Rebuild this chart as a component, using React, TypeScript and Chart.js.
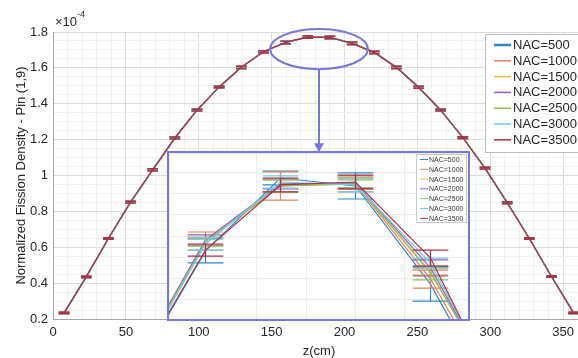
import React, { useEffect, useRef } from "react";
import { Chart, registerables } from "chart.js";

Chart.register(...registerables);

const FONT = "'Liberation Sans', Arial, Helvetica, sans-serif";
const TEXT = "#262626";
const ACCENT = "#7878dc";

const seriesLabels = ["NAC=500", "NAC=1000", "NAC=1500", "NAC=2000", "NAC=2500", "NAC=3000", "NAC=3500"];
const seriesColors = ["#2f86c8", "#e8835a", "#efbc45", "#9a5cb4", "#8cbf52", "#6fcbf0", "#a83248"];

// axial node centres (cm)
const zNodes = [7.6, 22.8, 38.0, 53.2, 68.4, 83.6, 98.8, 114.0, 129.2, 144.4, 159.6, 174.8,
  190.0, 205.2, 220.4, 235.6, 250.8, 266.0, 281.2, 296.4, 311.6, 326.8, 342.0, 357.2];
// normalized fission density (x1e-4), all NAC cases overlap at this scale
const mainProfile = [0.234, 0.435, 0.649, 0.851, 1.032, 1.209, 1.364, 1.494, 1.603, 1.690, 1.742, 1.772,
  1.770, 1.737, 1.686, 1.603, 1.492, 1.364, 1.211, 1.041, 0.849, 0.649, 0.437, 0.234];
const mainErrors = [0.004, 0.004, 0.004, 0.005, 0.005, 0.005, 0.005, 0.005, 0.006, 0.006, 0.007, 0.007,
  0.007, 0.007, 0.006, 0.006, 0.005, 0.005, 0.005, 0.005, 0.005, 0.004, 0.004, 0.004];

// zoomed inset (peak region)
const insetZ = [144.4, 159.6, 174.8, 190.0, 205.2, 220.4];
const insetNac500 = [1.6714, 1.7329, 1.7676, 1.7638, 1.7171, 1.6524];
const insetNac1000 = [1.6743, 1.7376, 1.7638, 1.7648, 1.7195, 1.6571];
const insetNac1500 = [1.6752, 1.7376, 1.7638, 1.7652, 1.7229, 1.6619];
const insetNac2000 = [1.6752, 1.7381, 1.7648, 1.7652, 1.7248, 1.6610];
const insetNac2500 = [1.6748, 1.7371, 1.7638, 1.7648, 1.7224, 1.6619];
const insetNac3000 = [1.6733, 1.7362, 1.7657, 1.7643, 1.7271, 1.6595];
const insetNac3500 = [1.6724, 1.7333, 1.7643, 1.7657, 1.7295, 1.6581];
const insetErr500 = [0.0024, 0.0057, 0.0033, 0.0062, 0.0081, 0.0024];
const insetErr1000 = [0.0024, 0.0043, 0.0067, 0.0038, 0.0043, 0.0024];
const insetErr1500 = [0.0024, 0.0019, 0.0029, 0.0029, 0.0014, 0.0024];
const insetErr2000 = [0.0024, 0.0024, 0.0024, 0.0024, 0.0038, 0.0024];
const insetErr2500 = [0.0024, 0.0019, 0.0029, 0.0019, 0.0033, 0.0024];
const insetErr3000 = [0.0024, 0.0029, 0.0029, 0.0033, 0.0024, 0.0024];
const insetErr3500 = [0.0024, 0.0029, 0.0033, 0.0033, 0.0038, 0.0024];
const insetValues = [insetNac500, insetNac1000, insetNac1500, insetNac2000, insetNac2500, insetNac3000, insetNac3500];
const insetErrors = [insetErr500, insetErr1000, insetErr1500, insetErr2000, insetErr2500, insetErr3000, insetErr3500];

const CAP_HALF = 3.6; // cm
const zoomEllipse = { z: 182.5, v: 1.705, rz: 33.5, rv: 0.112 };
const arrowEndV = 1.13;

const errorBarPlugin = {
  id: "errorBars",
  afterDatasetDraw(chart: any, args: any) {
    const ds: any = chart.data.datasets[args.index];
    if (!ds.errors) return;
    const { ctx } = chart;
    const x = chart.scales.x;
    const y = chart.scales.y;
    ctx.save();
    ctx.strokeStyle = ds.borderColor;
    ctx.lineWidth = ds.errWidth || 1.2;
    ds.data.forEach((p: any, k: number) => {
      const e = ds.errors[k];
      const px = x.getPixelForValue(p.x);
      const x0 = x.getPixelForValue(p.x - CAP_HALF);
      const x1 = x.getPixelForValue(p.x + CAP_HALF);
      const yt = y.getPixelForValue(p.y + e);
      const yb = y.getPixelForValue(p.y - e);
      ctx.beginPath();
      ctx.moveTo(px, yt);
      ctx.lineTo(px, yb);
      ctx.moveTo(x0, yt);
      ctx.lineTo(x1, yt);
      ctx.moveTo(x0, yb);
      ctx.lineTo(x1, yb);
      ctx.stroke();
    });
    ctx.restore();
  },
};

const mainDecorPlugin = {
  id: "mainDecor",
  afterDraw(chart: any) {
    const { ctx, chartArea } = chart;
    const x = chart.scales.x;
    const y = chart.scales.y;
    ctx.save();
    // exponent
    ctx.fillStyle = TEXT;
    ctx.textBaseline = "middle";
    ctx.textAlign = "left";
    ctx.font = `13px ${FONT}`;
    const ex = chartArea.left + 2;
    ctx.fillText("×10", ex, chartArea.top - 10);
    const w = ctx.measureText("×10").width;
    ctx.font = `9px ${FONT}`;
    ctx.fillText("-4", ex + w, chartArea.top - 17);

    // ellipse + arrow
    const cx = x.getPixelForValue(zoomEllipse.z);
    const cy = y.getPixelForValue(zoomEllipse.v);
    const rx = x.getPixelForValue(zoomEllipse.z + zoomEllipse.rz) - cx;
    const ry = cy - y.getPixelForValue(zoomEllipse.v + zoomEllipse.rv);
    ctx.strokeStyle = ACCENT;
    ctx.lineWidth = 2;
    ctx.beginPath();
    ctx.ellipse(cx, cy, rx, ry, 0, 0, Math.PI * 2);
    ctx.stroke();
    const tipY = y.getPixelForValue(arrowEndV);
    ctx.beginPath();
    ctx.moveTo(cx, cy + ry);
    ctx.lineTo(cx, tipY - 8);
    ctx.stroke();
    ctx.fillStyle = ACCENT;
    ctx.beginPath();
    ctx.moveTo(cx - 5, tipY - 9);
    ctx.lineTo(cx + 5, tipY - 9);
    ctx.lineTo(cx, tipY);
    ctx.closePath();
    ctx.fill();

    // legend
    const lx = 485, ly = 34, lw = 96, lh = 118;
    ctx.fillStyle = "#ffffff";
    ctx.fillRect(lx, ly, lw, lh);
    ctx.strokeStyle = "#bdbdbd";
    ctx.lineWidth = 1;
    ctx.strokeRect(lx + 0.5, ly + 0.5, lw, lh);
    ctx.font = `13px ${FONT}`;
    ctx.textBaseline = "middle";
    seriesLabels.forEach((lab, i) => {
      const yy = 45 + i * 15.8;
      ctx.strokeStyle = seriesColors[i];
      ctx.lineWidth = i === 0 ? 2.5 : 1.5;
      ctx.beginPath();
      ctx.moveTo(494, yy);
      ctx.lineTo(511, yy);
      ctx.stroke();
      ctx.fillStyle = TEXT;
      ctx.fillText(lab, 513, yy + 0.5);
    });
    ctx.restore();
  },
};

const insetLegendPlugin = {
  id: "insetLegend",
  afterDraw(chart: any) {
    const { ctx } = chart;
    ctx.save();
    const lx = 247, ly = 1, lw = 50, lh = 68;
    ctx.fillStyle = "rgba(255,255,255,0.95)";
    ctx.fillRect(lx, ly, lw, lh);
    ctx.strokeStyle = "#c8c8c8";
    ctx.lineWidth = 1;
    ctx.strokeRect(lx + 0.5, ly + 0.5, lw, lh);
    ctx.font = `7px ${FONT}`;
    ctx.textBaseline = "middle";
    ctx.textAlign = "left";
    seriesLabels.forEach((lab, i) => {
      const yy = 6.5 + i * 9.8;
      ctx.strokeStyle = seriesColors[i];
      ctx.lineWidth = 1;
      ctx.beginPath();
      ctx.moveTo(251, yy);
      ctx.lineTo(259, yy);
      ctx.stroke();
      ctx.fillStyle = "#333333";
      ctx.fillText(lab, 260, yy + 0.5);
    });
    ctx.restore();
  },
};

const isMult = (v: number, step: number) => Math.abs(v / step - Math.round(v / step)) < 1e-6;

export default function App() {
  const mainRef = useRef<HTMLCanvasElement>(null);
  const insetRef = useRef<HTMLCanvasElement>(null);

  useEffect(() => {
    const n = seriesLabels.length;
    const mainDatasets = seriesLabels.map((label, i) => ({
      label,
      data: zNodes.map((z, k) => ({ x: z, y: mainProfile[k] })),
      borderColor: seriesColors[i],
      backgroundColor: seriesColors[i],
      borderWidth: 1.3,
      pointRadius: 0,
      tension: 0,
      order: n - i,
      errors: mainErrors,
      errWidth: 1.5,
    }));

    const main = new Chart(mainRef.current as HTMLCanvasElement, {
      type: "line",
      data: { datasets: mainDatasets as any },
      plugins: [errorBarPlugin, mainDecorPlugin],
      options: {
        responsive: false,
        animation: false,
        events: [],
        layout: { padding: { top: 32, right: 15, left: 0, bottom: 0 } },
        plugins: { legend: { display: false }, tooltip: { enabled: false } },
        scales: {
          x: {
            type: "linear",
            min: 0,
            max: 365,
            ticks: {
              stepSize: 10,
              autoSkip: false,
              maxRotation: 0,
              minRotation: 0,
              padding: 6,
              color: TEXT,
              font: { family: FONT, size: 13 },
              callback: (v: any) => (isMult(Number(v), 50) ? String(v) : ""),
            },
            grid: {
              drawTicks: false,
              color: (c: any) => (c.tick && isMult(c.tick.value, 50) ? "#dcdcdc" : "#f0f0f0"),
            },
            border: { display: true, color: "#a6a6a6" },
            title: {
              display: true,
              text: "z(cm)",
              color: TEXT,
              font: { family: FONT, size: 13, lineHeight: 1 },
              padding: { top: 0, bottom: 0 },
            },
            afterFit: (s: any) => {
              s.height = 39;
            },
          },
          y: {
            type: "linear",
            min: 0.2,
            max: 1.8,
            ticks: {
              stepSize: 0.05,
              autoSkip: false,
              padding: 5,
              color: TEXT,
              font: { family: FONT, size: 13 },
              callback: (v: any) => (isMult(Number(v), 0.2) ? String(Math.round(Number(v) * 10) / 10) : ""),
            },
            grid: {
              drawTicks: false,
              color: (c: any) => (c.tick && isMult(c.tick.value, 0.2) ? "#dcdcdc" : "#f0f0f0"),
            },
            border: { display: true, color: "#a6a6a6" },
            title: {
              display: true,
              text: "Normalized Fission Density - Pin (1,9)",
              color: TEXT,
              font: { family: FONT, size: 13 },
              padding: { top: 14, bottom: 0 },
            },
            afterFit: (s: any) => {
              s.width = 53;
            },
          },
        },
      } as any,
    });

    const insetDatasets = seriesLabels.map((label, i) => ({
      label,
      data: insetZ.map((z, k) => ({ x: z, y: insetValues[i][k] })),
      borderColor: seriesColors[i],
      backgroundColor: seriesColors[i],
      borderWidth: 1.2,
      pointRadius: 0,
      tension: 0,
      order: n - i,
      errors: insetErrors[i],
      errWidth: 1.2,
    }));

    const inset = new Chart(insetRef.current as HTMLCanvasElement, {
      type: "line",
      data: { datasets: insetDatasets as any },
      plugins: [errorBarPlugin, insetLegendPlugin],
      options: {
        responsive: false,
        animation: false,
        events: [],
        layout: { padding: 0 },
        plugins: { legend: { display: false }, tooltip: { enabled: false } },
        scales: {
          x: {
            type: "linear",
            min: 152.2,
            max: 212.8,
            ticks: { display: false, stepSize: 10 },
            grid: { drawTicks: false, color: "#ececec" },
            border: { display: false },
            afterFit: (s: any) => {
              s.height = 0;
            },
          },
          y: {
            type: "linear",
            min: 1.7005,
            max: 1.7795,
            ticks: { display: false, stepSize: 0.01 },
            grid: { drawTicks: false, color: "#ececec" },
            border: { display: false },
            afterFit: (s: any) => {
              s.width = 0;
            },
          },
        },
      } as any,
    });

    return () => {
      main.destroy();
      inset.destroy();
    };
  }, []);

  return (
    <div style={{ position: "absolute", left: 0, top: 0, width: 578, height: 358, overflow: "hidden", background: "#ffffff" }}>
      <canvas ref={mainRef} width={600} height={358} style={{ position: "absolute", left: 0, top: 0, width: 600, height: 358 }} />
      <div
        style={{
          position: "absolute",
          left: 167,
          top: 151,
          width: 303,
          height: 170,
          border: `2px solid ${ACCENT}`,
          boxSizing: "border-box",
          background: "#ffffff",
        }}
      >
        <canvas ref={insetRef} width={299} height={166} style={{ display: "block", width: 299, height: 166 }} />
      </div>
    </div>
  );
}
